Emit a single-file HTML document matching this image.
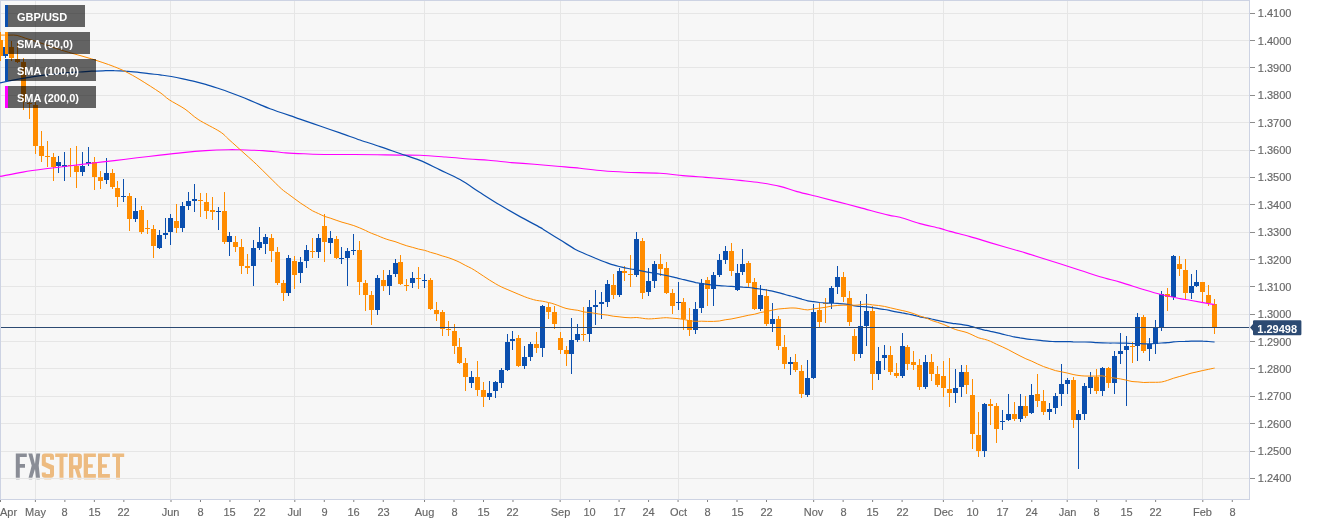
<!DOCTYPE html><html><head><meta charset="utf-8"><style>html,body{margin:0;padding:0;background:#fff;width:1326px;height:525px;overflow:hidden}svg{display:block;font-family:"Liberation Sans",sans-serif;will-change:transform}</style></head><body>
<svg width="1326" height="525" viewBox="0 0 1326 525">
<defs><clipPath id="pc"><rect x="0" y="1" width="1249" height="498"/></clipPath></defs>
<rect x="0" y="0" width="1250" height="500" fill="#f7f7f7"/>
<path d="M1 13.5H1249 M1 40.5H1249 M1 67.5H1249 M1 95.5H1249 M1 122.5H1249 M1 150.5H1249 M1 177.5H1249 M1 204.5H1249 M1 232.5H1249 M1 259.5H1249 M1 286.5H1249 M1 314.5H1249 M1 341.5H1249 M1 368.5H1249 M1 396.5H1249 M1 423.5H1249 M1 451.5H1249 M1 478.5H1249 M35.5 1V499 M170.5 1V499 M294.5 1V499 M424.5 1V499 M560.5 1V499 M678.5 1V499 M813.5 1V499 M943.5 1V499 M1067.5 1V499 M1202.5 1V499" stroke="#e6e6e6" stroke-width="1" fill="none"/>
<rect x="0.5" y="0.5" width="1249" height="499" fill="none" stroke="#cdd3e3" stroke-width="1"/>
<g clip-path="url(#pc)">
<path d="M-2 40h5v16h-5zM0 32h1v29h-1zM9 47h5v11h-5zM11 41h1v20h-1zM15 59h5v3h-5zM17 43h1v20h-1zM21 62h5v40h-5zM23 58h1v52h-1zM27 103h5v1h-5zM29 102h1v17h-1zM33 105h5v41h-5zM35 102h1v52h-1zM39 146h5v10h-5zM41 131h1v31h-1zM45 156h5v1h-5zM47 141h1v26h-1zM51 157h5v10h-5zM53 153h1v28h-1zM68 165h5v1h-5zM70 148h1v29h-1zM74 166h5v6h-5zM76 146h1v42h-1zM92 162h5v15h-5zM94 157h1v33h-1zM98 177h5v4h-5zM100 171h1v18h-1zM110 173h5v14h-5zM112 169h1v20h-1zM115 188h5v9h-5zM117 181h1v26h-1zM127 196h5v23h-5zM129 193h1v38h-1zM139 210h5v22h-5zM141 206h1v28h-1zM145 228h5v1h-5zM147 220h1v14h-1zM151 229h5v17h-5zM153 225h1v33h-1zM174 221h5v7h-5zM176 204h1v29h-1zM198 200h5v1h-5zM200 193h1v24h-1zM204 202h5v9h-5zM206 193h1v26h-1zM210 210h5v2h-5zM212 197h1v23h-1zM222 211h5v31h-5zM224 192h1v52h-1zM233 242h5v5h-5zM235 236h1v16h-1zM239 247h5v19h-5zM241 239h1v35h-1zM245 266h5v2h-5zM247 254h1v20h-1zM269 238h5v13h-5zM271 234h1v28h-1zM275 252h5v31h-5zM277 247h1v38h-1zM281 283h5v10h-5zM283 280h1v21h-1zM292 261h5v14h-5zM294 256h1v33h-1zM310 251h5v1h-5zM312 238h1v20h-1zM322 226h5v16h-5zM324 214h1v48h-1zM334 239h5v19h-5zM336 236h1v23h-1zM357 250h5v32h-5zM359 241h1v54h-1zM363 283h5v12h-5zM365 280h1v31h-1zM369 295h5v15h-5zM371 291h1v34h-1zM381 280h5v6h-5zM383 270h1v21h-1zM398 262h5v22h-5zM400 255h1v30h-1zM404 285h5v1h-5zM406 279h1v12h-1zM416 278h5v1h-5zM418 267h1v22h-1zM428 280h5v29h-5zM430 278h1v32h-1zM434 310h5v4h-5zM436 302h1v19h-1zM440 312h5v17h-5zM442 310h1v26h-1zM446 329h5v1h-5zM448 321h1v15h-1zM452 331h5v15h-5zM454 324h1v30h-1zM457 347h5v16h-5zM459 338h1v26h-1zM463 363h5v14h-5zM465 358h1v33h-1zM475 377h5v13h-5zM477 361h1v35h-1zM481 390h5v7h-5zM483 382h1v25h-1zM516 338h5v28h-5zM518 335h1v32h-1zM534 344h5v4h-5zM536 332h1v21h-1zM546 307h5v5h-5zM548 303h1v16h-1zM552 312h5v12h-5zM554 306h1v23h-1zM558 338h5v12h-5zM560 332h1v22h-1zM564 350h5v4h-5zM566 346h1v20h-1zM581 334h5v1h-5zM583 307h1v34h-1zM611 285h5v10h-5zM613 274h1v25h-1zM622 271h5v2h-5zM624 266h1v15h-1zM628 274h5v1h-5zM630 255h1v32h-1zM640 241h5v52h-5zM642 238h1v61h-1zM658 264h5v5h-5zM660 254h1v22h-1zM664 268h5v25h-5zM666 262h1v32h-1zM670 293h5v13h-5zM672 289h1v25h-1zM681 302h5v17h-5zM683 298h1v32h-1zM687 320h5v10h-5zM689 308h1v28h-1zM705 280h5v9h-5zM707 277h1v29h-1zM729 251h5v20h-5zM731 243h1v33h-1zM746 263h5v20h-5zM748 261h1v26h-1zM752 282h5v27h-5zM754 278h1v32h-1zM764 296h5v28h-5zM766 289h1v37h-1zM776 319h5v27h-5zM778 316h1v34h-1zM782 347h5v17h-5zM784 335h1v34h-1zM793 362h5v8h-5zM795 354h1v18h-1zM799 371h5v23h-5zM801 365h1v33h-1zM817 310h5v12h-5zM819 303h1v24h-1zM823 303h5v1h-5zM825 298h1v25h-1zM841 277h5v20h-5zM843 272h1v30h-1zM847 298h5v24h-5zM849 291h1v35h-1zM852 336h5v18h-5zM854 329h1v32h-1zM870 311h5v63h-5zM872 306h1v84h-1zM888 355h5v17h-5zM890 346h1v29h-1zM894 373h5v3h-5zM896 363h1v15h-1zM905 347h5v17h-5zM907 345h1v25h-1zM911 362h5v3h-5zM913 351h1v19h-1zM917 365h5v22h-5zM919 359h1v31h-1zM929 362h5v12h-5zM931 354h1v27h-1zM935 374h5v11h-5zM937 366h1v21h-1zM941 376h5v12h-5zM943 361h1v36h-1zM947 389h5v4h-5zM949 358h1v49h-1zM964 372h5v13h-5zM966 365h1v29h-1zM970 395h5v39h-5zM972 379h1v70h-1zM976 435h5v16h-5zM978 412h1v45h-1zM988 404h5v2h-5zM990 399h1v26h-1zM994 406h5v23h-5zM996 403h1v40h-1zM1012 414h5v5h-5zM1014 402h1v19h-1zM1023 406h5v10h-5zM1025 396h1v22h-1zM1035 394h5v7h-5zM1037 374h1v33h-1zM1041 401h5v11h-5zM1043 390h1v25h-1zM1071 380h5v40h-5zM1073 377h1v51h-1zM1094 377h5v14h-5zM1096 369h1v25h-1zM1106 368h5v15h-5zM1108 367h1v21h-1zM1130 346h5v1h-5zM1132 342h1v21h-1zM1141 317h5v34h-5zM1143 315h1v38h-1zM1165 294h5v3h-5zM1167 288h1v23h-1zM1177 264h5v5h-5zM1179 256h1v20h-1zM1183 270h5v23h-5zM1185 259h1v40h-1zM1200 282h5v10h-5zM1202 282h1v20h-1zM1206 295h5v8h-5zM1208 285h1v21h-1zM1212 304h5v23h-5zM1214 299h1v35h-1z" fill="#ff8c00"/>
<path d="M3 47h5v9h-5zM5 45h1v13h-1zM56 162h5v4h-5zM58 156h1v17h-1zM62 165h5v2h-5zM64 152h1v29h-1zM80 166h5v6h-5zM82 152h1v24h-1zM86 162h5v2h-5zM88 147h1v19h-1zM104 173h5v7h-5zM106 158h1v26h-1zM121 196h5v1h-5zM123 179h1v23h-1zM133 211h5v8h-5zM135 198h1v24h-1zM157 235h5v13h-5zM159 230h1v19h-1zM163 233h5v2h-5zM165 218h1v21h-1zM168 218h5v14h-5zM170 214h1v31h-1zM180 206h5v22h-5zM182 202h1v30h-1zM186 201h5v5h-5zM188 192h1v18h-1zM192 199h5v2h-5zM194 184h1v28h-1zM216 211h5v1h-5zM218 207h1v23h-1zM227 236h5v6h-5zM229 232h1v24h-1zM251 248h5v18h-5zM253 240h1v46h-1zM257 242h5v6h-5zM259 227h1v23h-1zM263 237h5v7h-5zM265 234h1v20h-1zM286 258h5v35h-5zM288 255h1v41h-1zM298 262h5v11h-5zM300 257h1v26h-1zM304 250h5v11h-5zM306 245h1v23h-1zM316 238h5v14h-5zM318 234h1v24h-1zM328 238h5v5h-5zM330 231h1v23h-1zM339 258h5v1h-5zM341 247h1v17h-1zM345 251h5v7h-5zM347 248h1v38h-1zM351 250h5v1h-5zM353 234h1v21h-1zM375 278h5v32h-5zM377 275h1v40h-1zM387 275h5v11h-5zM389 270h1v25h-1zM393 263h5v11h-5zM395 259h1v18h-1zM410 278h5v5h-5zM412 272h1v16h-1zM422 280h5v1h-5zM424 274h1v14h-1zM469 377h5v6h-5zM471 371h1v17h-1zM487 393h5v4h-5zM489 381h1v19h-1zM493 382h5v9h-5zM495 381h1v17h-1zM499 370h5v13h-5zM501 368h1v20h-1zM505 342h5v28h-5zM507 334h1v37h-1zM510 339h5v2h-5zM512 331h1v19h-1zM522 357h5v9h-5zM524 346h1v23h-1zM528 344h5v13h-5zM530 342h1v19h-1zM540 306h5v42h-5zM542 305h1v52h-1zM569 340h5v14h-5zM571 318h1v56h-1zM575 334h5v6h-5zM577 324h1v18h-1zM587 307h5v27h-5zM589 300h1v42h-1zM593 305h5v2h-5zM595 290h1v35h-1zM599 302h5v2h-5zM601 292h1v27h-1zM605 284h5v18h-5zM607 280h1v27h-1zM617 271h5v24h-5zM619 268h1v29h-1zM634 239h5v36h-5zM636 232h1v45h-1zM646 281h5v11h-5zM648 268h1v28h-1zM652 264h5v17h-5zM654 261h1v27h-1zM676 302h5v1h-5zM678 282h1v28h-1zM693 309h5v21h-5zM695 302h1v32h-1zM699 283h5v25h-5zM701 279h1v34h-1zM711 275h5v14h-5zM713 272h1v34h-1zM717 260h5v15h-5zM719 254h1v23h-1zM723 251h5v9h-5zM725 246h1v18h-1zM735 273h5v17h-5zM737 264h1v27h-1zM740 264h5v8h-5zM742 249h1v26h-1zM758 295h5v14h-5zM760 285h1v26h-1zM770 319h5v5h-5zM772 303h1v29h-1zM788 362h5v2h-5zM790 357h1v18h-1zM805 378h5v17h-5zM807 360h1v37h-1zM811 312h5v66h-5zM813 304h1v75h-1zM829 288h5v15h-5zM831 286h1v23h-1zM835 277h5v10h-5zM837 266h1v28h-1zM858 326h5v28h-5zM860 301h1v57h-1zM864 311h5v15h-5zM866 294h1v52h-1zM876 361h5v13h-5zM878 347h1v33h-1zM882 355h5v3h-5zM884 345h1v25h-1zM900 346h5v30h-5zM902 333h1v45h-1zM923 362h5v25h-5zM925 355h1v34h-1zM953 388h5v5h-5zM955 369h1v34h-1zM959 372h5v15h-5zM961 365h1v32h-1zM982 404h5v47h-5zM984 403h1v54h-1zM1000 421h5v1h-5zM1002 410h1v20h-1zM1006 414h5v6h-5zM1008 394h1v27h-1zM1018 406h5v13h-5zM1020 394h1v28h-1zM1029 395h5v18h-5zM1031 384h1v30h-1zM1047 409h5v3h-5zM1049 403h1v17h-1zM1053 396h5v12h-5zM1055 393h1v21h-1zM1059 384h5v10h-5zM1061 364h1v42h-1zM1065 380h5v4h-5zM1067 378h1v16h-1zM1076 414h5v6h-5zM1078 410h1v59h-1zM1082 386h5v28h-5zM1084 383h1v37h-1zM1088 377h5v11h-5zM1090 372h1v22h-1zM1100 368h5v23h-5zM1102 367h1v29h-1zM1112 356h5v27h-5zM1114 351h1v43h-1zM1118 351h5v3h-5zM1120 333h1v31h-1zM1124 346h5v4h-5zM1126 336h1v70h-1zM1135 317h5v29h-5zM1137 313h1v48h-1zM1147 344h5v5h-5zM1149 338h1v23h-1zM1153 328h5v16h-5zM1155 320h1v34h-1zM1159 294h5v33h-5zM1161 291h1v40h-1zM1171 256h5v41h-5zM1173 255h1v45h-1zM1189 286h5v7h-5zM1191 274h1v25h-1zM1194 282h5v4h-5zM1196 270h1v17h-1z" fill="#0b4fae"/>
<path d="M0.0 176.4 C3.8 175.7 15.3 173.4 22.9 172.1 C30.5 170.8 38.1 169.8 45.7 168.8 C53.3 167.8 61.0 166.9 68.6 166.0 C76.2 165.1 83.8 164.1 91.4 163.2 C99.0 162.3 106.7 161.5 114.3 160.6 C121.9 159.7 129.5 158.7 137.1 157.8 C144.7 156.9 152.4 156.0 160.0 155.1 C167.6 154.2 175.3 153.3 182.9 152.6 C190.5 151.8 198.1 151.1 205.7 150.6 C213.3 150.1 222.9 149.8 228.6 149.7 C234.3 149.6 234.3 149.7 240.0 149.8 C245.7 150.0 255.3 150.1 262.9 150.6 C270.5 151.1 278.1 152.3 285.7 152.9 C293.3 153.5 301.0 153.7 308.6 154.0 C316.2 154.3 323.8 154.4 331.4 154.5 C339.0 154.6 346.7 154.5 354.3 154.5 C361.9 154.5 369.5 154.6 377.1 154.7 C384.7 154.8 392.9 155.0 400.0 155.1 C407.1 155.2 412.4 155.0 420.0 155.3 C427.6 155.6 437.6 156.4 445.7 157.0 C453.8 157.6 461.5 158.4 468.6 159.0 C475.8 159.6 481.5 159.7 488.6 160.3 C495.7 160.9 503.8 161.9 511.4 162.6 C519.0 163.2 526.7 163.6 534.3 164.2 C541.9 164.8 549.5 165.5 557.1 166.2 C564.7 166.9 572.4 167.5 580.0 168.3 C587.6 169.1 595.3 170.2 602.9 170.8 C610.5 171.5 616.2 171.8 625.7 172.2 C635.2 172.6 650.5 172.7 660.0 173.3 C669.5 173.9 675.3 174.9 682.9 175.6 C690.5 176.3 698.1 176.8 705.7 177.4 C713.3 178.0 722.9 178.8 728.6 179.3 C734.3 179.8 734.8 179.8 740.0 180.4 C745.2 181.0 753.3 181.7 760.0 182.7 C766.7 183.7 773.8 184.9 780.0 186.4 C786.2 187.9 790.4 189.8 797.1 191.6 C803.8 193.4 812.9 195.5 820.0 197.3 C827.1 199.1 833.3 200.7 840.0 202.4 C846.7 204.1 851.9 205.5 860.0 207.6 C868.1 209.7 881.9 213.5 888.6 215.1 C895.3 216.7 894.8 215.9 900.0 217.3 C905.2 218.7 913.3 221.8 920.0 223.6 C926.7 225.4 935.0 227.1 940.0 228.4 C945.0 229.7 945.0 230.0 950.0 231.4 C955.0 232.8 963.3 234.7 970.0 236.6 C976.7 238.5 981.7 240.1 990.0 242.6 C998.3 245.1 1011.7 248.8 1020.0 251.3 C1028.3 253.8 1030.0 254.2 1040.0 257.4 C1050.0 260.6 1070.0 267.1 1080.0 270.3 C1090.0 273.5 1093.3 274.7 1100.0 276.7 C1106.7 278.7 1113.3 280.2 1120.0 282.1 C1126.7 284.0 1133.3 286.3 1140.0 288.4 C1146.7 290.4 1153.3 292.6 1160.0 294.3 C1166.7 296.0 1175.0 297.6 1180.0 298.6 C1185.0 299.6 1184.2 299.3 1190.0 300.3 C1195.8 301.3 1210.5 303.9 1214.6 304.6" stroke="#ff00ff" stroke-width="1.1" fill="none"/>
<path d="M0.0 82.8 C3.8 82.0 15.3 79.6 22.9 78.3 C30.5 77.0 38.1 75.9 45.7 74.9 C53.3 74.0 62.9 73.1 68.6 72.6 C74.3 72.1 76.2 72.2 80.0 72.0 C83.8 71.8 87.6 71.4 91.4 71.2 C95.2 71.0 99.1 70.9 102.9 70.8 C106.7 70.7 110.5 70.5 114.3 70.6 C118.1 70.6 121.9 70.8 125.7 71.1 C129.5 71.3 133.3 71.7 137.1 72.1 C140.9 72.5 144.8 73.1 148.6 73.6 C152.4 74.1 156.2 74.4 160.0 74.9 C163.8 75.4 167.6 75.8 171.4 76.5 C175.2 77.2 179.1 78.0 182.9 78.8 C186.7 79.6 190.5 80.4 194.3 81.3 C198.1 82.2 201.9 83.2 205.7 84.3 C209.5 85.4 213.3 86.7 217.1 88.0 C220.9 89.3 224.8 90.6 228.6 92.0 C232.4 93.4 236.4 94.9 240.0 96.3 C243.6 97.7 246.7 99.0 250.0 100.4 C253.3 101.8 256.7 103.2 260.0 104.6 C263.3 106.0 265.0 106.9 270.0 108.7 C275.0 110.5 285.0 113.9 290.0 115.6 C295.0 117.3 295.0 117.4 300.0 119.1 C305.0 120.8 313.3 123.7 320.0 126.0 C326.7 128.3 333.3 130.6 340.0 132.9 C346.7 135.2 353.3 137.7 360.0 140.0 C366.7 142.3 373.3 144.3 380.0 146.6 C386.7 148.8 393.3 151.2 400.0 153.5 C406.7 155.8 413.3 157.7 420.0 160.4 C426.7 163.1 433.3 166.7 440.0 169.9 C446.7 173.1 453.3 175.8 460.0 179.6 C466.7 183.4 473.3 188.2 480.0 192.5 C486.7 196.8 493.3 201.1 500.0 205.1 C506.7 209.1 513.3 212.9 520.0 216.6 C526.7 220.3 535.8 225.1 540.0 227.4 C544.2 229.7 541.6 228.5 545.0 230.6 C548.4 232.7 555.4 236.9 560.4 240.0 C565.4 243.1 571.1 247.0 575.0 249.2 C578.9 251.4 581.3 252.1 583.7 253.2 C586.2 254.3 587.6 254.9 589.6 255.7 C591.6 256.6 593.5 257.4 595.5 258.3 C597.5 259.1 599.4 259.9 601.4 260.7 C603.4 261.5 605.3 262.2 607.3 262.9 C609.3 263.6 611.2 264.3 613.2 264.9 C615.2 265.5 617.1 266.0 619.1 266.5 C621.1 267.0 623.0 267.4 625.0 267.8 C627.0 268.2 628.9 268.7 630.9 269.0 C632.9 269.3 634.8 269.5 636.8 269.8 C638.7 270.2 640.7 270.7 642.7 271.1 C644.6 271.5 646.6 271.9 648.6 272.3 C650.5 272.6 652.5 272.9 654.5 273.3 C656.4 273.6 658.4 273.9 660.4 274.3 C662.3 274.7 664.3 275.1 666.3 275.5 C668.2 275.9 670.2 276.4 672.2 276.9 C674.1 277.4 676.1 277.8 678.1 278.3 C680.0 278.8 682.0 279.2 683.9 279.7 C685.9 280.2 687.9 280.7 689.8 281.2 C691.8 281.7 693.8 282.2 695.7 282.6 C697.7 282.9 699.7 283.2 701.6 283.5 C703.6 283.8 705.6 284.2 707.5 284.4 C709.5 284.7 711.5 285.0 713.4 285.2 C715.4 285.4 717.4 285.5 719.3 285.6 C721.3 285.8 723.3 285.9 725.2 286.0 C727.2 286.2 729.2 286.3 731.1 286.4 C733.1 286.6 735.0 286.8 737.0 286.9 C739.0 287.0 740.9 286.9 742.9 287.1 C744.9 287.2 746.8 287.3 748.8 287.5 C750.8 287.7 752.7 288.0 754.7 288.3 C756.7 288.5 758.6 288.8 760.6 289.1 C762.6 289.3 764.5 289.7 766.5 290.0 C768.5 290.4 770.4 290.7 772.4 291.1 C774.4 291.6 776.3 292.1 778.3 292.6 C780.3 293.1 782.2 293.7 784.2 294.2 C786.1 294.8 788.1 295.3 790.1 295.8 C792.0 296.4 794.0 296.9 796.0 297.4 C797.9 298.0 799.9 298.7 801.9 299.2 C803.8 299.8 805.8 300.5 807.8 300.9 C809.7 301.3 811.7 301.3 813.7 301.6 C815.6 301.9 817.6 302.2 819.6 302.5 C821.5 302.7 823.5 302.9 825.5 303.0 C827.4 303.2 829.4 303.2 831.4 303.2 C833.3 303.3 835.3 303.2 837.2 303.3 C839.2 303.4 841.2 303.6 843.1 303.8 C845.1 304.0 847.1 304.3 849.0 304.6 C851.0 305.0 853.0 305.5 854.9 305.8 C856.9 306.1 858.9 306.4 860.8 306.5 C862.8 306.7 864.8 306.6 866.7 306.8 C868.7 307.0 870.7 307.3 872.6 307.6 C874.6 307.9 876.6 308.4 878.5 308.7 C880.5 309.0 882.4 309.2 884.4 309.5 C886.4 309.8 888.3 310.2 890.3 310.6 C892.3 311.0 894.2 311.5 896.2 311.8 C898.2 312.2 900.1 312.4 902.1 312.8 C904.1 313.1 906.0 313.6 908.0 314.0 C910.0 314.5 911.9 314.8 913.9 315.3 C915.9 315.7 917.8 316.3 919.8 316.8 C921.8 317.2 923.7 317.4 925.7 317.8 C927.7 318.2 929.6 318.5 931.6 319.0 C933.5 319.4 935.5 319.9 937.5 320.3 C939.4 320.8 941.4 321.3 943.4 321.7 C945.3 322.1 947.3 322.5 949.3 322.8 C951.2 323.1 953.2 323.5 955.2 323.7 C957.1 324.0 959.1 324.1 961.1 324.3 C963.0 324.6 965.0 325.0 967.0 325.4 C968.9 325.8 970.9 326.4 972.9 326.9 C974.8 327.4 976.8 328.1 978.8 328.7 C980.7 329.2 982.7 329.6 984.6 330.1 C986.6 330.5 988.6 330.8 990.5 331.3 C992.5 331.7 994.5 332.2 996.4 332.7 C998.4 333.2 1000.4 333.7 1002.3 334.1 C1004.3 334.6 1006.3 335.0 1008.2 335.5 C1010.2 335.9 1012.2 336.5 1014.1 336.9 C1016.1 337.3 1018.1 337.5 1020.0 337.9 C1022.0 338.2 1024.0 338.6 1025.9 338.9 C1027.9 339.2 1029.8 339.3 1031.8 339.5 C1033.8 339.8 1035.7 340.0 1037.7 340.2 C1039.7 340.5 1041.6 340.7 1043.6 340.9 C1045.6 341.1 1047.5 341.3 1049.5 341.4 C1051.5 341.5 1053.4 341.5 1055.4 341.6 C1057.4 341.6 1059.3 341.6 1061.3 341.6 C1063.3 341.6 1065.2 341.5 1067.2 341.5 C1069.2 341.6 1071.1 341.7 1073.1 341.8 C1075.1 341.8 1077.0 341.9 1079.0 342.0 C1080.9 342.0 1082.9 342.0 1084.9 342.0 C1086.8 342.0 1088.8 342.0 1090.8 342.1 C1092.7 342.2 1094.7 342.5 1096.7 342.6 C1098.6 342.7 1100.6 342.8 1102.6 342.9 C1104.5 343.0 1106.5 343.0 1108.5 343.0 C1110.4 343.1 1112.4 343.0 1114.4 343.0 C1116.3 343.1 1118.3 343.1 1120.3 343.1 C1122.2 343.1 1124.2 343.0 1126.2 343.1 C1128.1 343.2 1130.1 343.4 1132.0 343.5 C1134.0 343.6 1136.0 343.5 1137.9 343.6 C1139.9 343.6 1141.9 343.8 1143.8 343.8 C1145.8 343.9 1147.8 343.8 1149.7 343.8 C1151.7 343.7 1153.7 343.6 1155.6 343.5 C1157.6 343.4 1159.6 343.2 1161.5 343.0 C1163.5 342.9 1165.5 342.9 1167.4 342.7 C1169.4 342.5 1171.4 342.1 1173.3 341.9 C1175.3 341.7 1177.2 341.6 1179.2 341.5 C1181.2 341.4 1183.1 341.4 1185.1 341.4 C1187.1 341.3 1189.0 341.3 1191.0 341.2 C1193.0 341.2 1194.9 341.2 1196.9 341.2 C1198.9 341.2 1200.8 341.1 1202.8 341.2 C1204.8 341.2 1206.7 341.4 1208.7 341.5 C1210.7 341.6 1213.6 341.9 1214.6 342.0" stroke="#0b4fae" stroke-width="1.2" fill="none"/>
<path d="M0.0 35.1 C1.7 35.1 7.2 35.1 10.0 35.1 C12.8 35.1 14.5 34.9 17.1 35.4 C19.7 35.9 22.8 37.4 25.7 38.3 C28.6 39.2 31.4 40.0 34.3 40.9 C37.2 41.8 40.0 42.7 42.9 43.7 C45.8 44.7 48.5 45.9 51.4 46.9 C54.2 47.9 57.1 48.8 60.0 49.7 C62.9 50.6 65.3 51.3 68.6 52.3 C71.9 53.3 76.2 54.4 80.0 55.5 C83.8 56.5 87.6 57.6 91.4 58.8 C95.2 60.0 99.1 61.3 102.9 62.6 C106.7 63.9 110.5 65.2 114.3 66.7 C118.1 68.2 121.4 69.5 125.7 71.7 C130.0 73.9 134.3 76.2 140.0 79.7 C145.7 83.2 155.2 89.2 160.0 92.5 C164.8 95.8 164.9 96.9 169.1 99.7 C173.3 102.5 180.2 105.8 185.0 109.1 C189.8 112.4 192.3 115.6 198.1 119.4 C203.9 123.2 214.8 128.3 220.0 131.7 C225.2 135.1 224.9 136.0 229.1 139.7 C233.3 143.4 240.4 149.9 245.0 154.0 C249.6 158.1 252.6 160.7 256.6 164.5 C260.6 168.3 264.9 172.7 269.0 176.7 C273.1 180.7 278.0 185.7 281.3 188.7 C284.6 191.7 286.7 192.8 288.9 194.5 C291.2 196.2 292.8 197.4 294.8 198.9 C296.8 200.3 298.7 201.8 300.7 203.2 C302.7 204.5 304.6 205.7 306.6 207.0 C308.6 208.3 310.5 209.7 312.5 210.8 C314.5 211.9 316.4 212.6 318.4 213.5 C320.4 214.4 322.3 215.5 324.3 216.3 C326.3 217.0 328.2 217.5 330.2 218.1 C332.2 218.8 334.1 219.5 336.1 220.2 C338.1 220.8 340.0 221.6 342.0 222.2 C343.9 222.8 345.9 223.3 347.9 223.8 C349.8 224.4 351.8 224.9 353.8 225.6 C355.7 226.3 357.7 227.1 359.7 227.9 C361.6 228.8 363.6 229.6 365.6 230.5 C367.5 231.4 369.5 232.5 371.5 233.3 C373.4 234.1 375.4 234.8 377.4 235.5 C379.3 236.3 381.3 237.3 383.3 238.0 C385.2 238.8 387.2 239.4 389.1 240.0 C391.1 240.6 393.1 241.0 395.0 241.6 C397.0 242.2 399.0 243.1 400.9 243.8 C402.9 244.5 404.9 245.2 406.8 245.8 C408.8 246.4 410.8 246.9 412.7 247.4 C414.7 248.0 416.7 248.6 418.6 249.1 C420.6 249.6 422.6 249.8 424.5 250.3 C426.5 250.8 428.5 251.7 430.4 252.3 C432.4 252.9 434.4 253.3 436.3 253.9 C438.3 254.5 440.2 255.3 442.2 255.9 C444.2 256.5 446.1 256.9 448.1 257.6 C450.1 258.2 452.0 259.0 454.0 259.8 C456.0 260.6 457.9 261.4 459.9 262.4 C461.9 263.4 463.8 264.5 465.8 265.6 C467.8 266.6 469.7 267.4 471.7 268.5 C473.7 269.6 475.6 270.9 477.6 272.2 C479.6 273.5 481.5 274.8 483.5 276.1 C485.5 277.4 487.4 278.7 489.4 280.0 C491.3 281.2 493.3 282.5 495.3 283.6 C497.2 284.8 499.2 285.8 501.2 286.8 C503.1 287.8 505.1 288.5 507.1 289.4 C509.0 290.2 511.0 291.1 513.0 291.9 C514.9 292.8 516.9 293.6 518.9 294.4 C520.8 295.2 522.8 296.1 524.8 296.8 C526.7 297.6 528.7 298.2 530.7 298.8 C532.6 299.4 534.6 300.0 536.5 300.4 C538.5 300.8 540.5 300.8 542.4 301.2 C544.4 301.5 546.4 302.0 548.3 302.5 C550.3 302.9 552.3 303.4 554.2 304.1 C556.2 304.7 558.2 305.6 560.1 306.3 C562.1 307.1 564.1 307.9 566.0 308.4 C568.0 308.9 570.0 309.2 571.9 309.5 C573.9 309.9 575.9 310.0 577.8 310.3 C579.8 310.7 581.8 311.5 583.7 311.9 C585.7 312.3 587.6 312.3 589.6 312.5 C591.6 312.8 593.5 313.1 595.5 313.4 C597.5 313.7 599.4 314.2 601.4 314.4 C603.4 314.7 605.3 314.8 607.3 315.1 C609.3 315.4 611.2 315.9 613.2 316.2 C615.2 316.5 617.1 316.6 619.1 316.8 C621.1 317.0 623.0 317.3 625.0 317.5 C627.0 317.7 628.9 317.8 630.9 317.8 C632.9 317.8 634.8 317.4 636.8 317.5 C638.7 317.6 640.7 318.1 642.7 318.3 C644.6 318.6 646.6 318.9 648.6 318.9 C650.5 319.0 652.5 318.7 654.5 318.6 C656.4 318.4 658.4 318.2 660.4 318.1 C662.3 317.9 664.3 317.7 666.3 317.7 C668.2 317.7 670.2 318.1 672.2 318.2 C674.1 318.4 676.1 318.4 678.1 318.6 C680.0 318.8 682.0 319.1 683.9 319.5 C685.9 319.8 687.9 320.5 689.8 320.8 C691.8 321.1 693.8 321.2 695.7 321.3 C697.7 321.4 699.7 321.2 701.6 321.2 C703.6 321.2 705.6 321.4 707.5 321.4 C709.5 321.5 711.5 321.4 713.4 321.4 C715.4 321.3 717.4 321.2 719.3 321.0 C721.3 320.7 723.3 320.2 725.2 319.8 C727.2 319.5 729.2 319.3 731.1 319.0 C733.1 318.6 735.0 318.2 737.0 317.8 C739.0 317.4 740.9 316.9 742.9 316.5 C744.9 316.1 746.8 315.6 748.8 315.2 C750.8 314.9 752.7 314.6 754.7 314.2 C756.7 313.7 758.6 313.0 760.6 312.5 C762.6 312.1 764.5 311.9 766.5 311.5 C768.5 311.1 770.4 310.5 772.4 310.1 C774.4 309.7 776.3 309.3 778.3 309.0 C780.3 308.8 782.2 308.6 784.2 308.5 C786.1 308.3 788.1 308.1 790.1 308.0 C792.0 308.0 794.0 307.9 796.0 308.1 C797.9 308.2 799.9 308.8 801.9 309.1 C803.8 309.4 805.8 309.9 807.8 309.9 C809.7 309.8 811.7 309.1 813.7 308.8 C815.6 308.5 817.6 308.3 819.6 308.1 C821.5 307.8 823.5 307.6 825.5 307.3 C827.4 307.0 829.4 306.4 831.4 306.1 C833.3 305.8 835.3 305.6 837.2 305.5 C839.2 305.3 841.2 305.3 843.1 305.2 C845.1 305.1 847.1 305.2 849.0 305.2 C851.0 305.2 853.0 305.3 854.9 305.2 C856.9 305.2 858.9 304.9 860.8 304.7 C862.8 304.5 864.8 304.1 866.7 304.1 C868.7 304.2 870.7 304.7 872.6 304.9 C874.6 305.2 876.6 305.2 878.5 305.5 C880.5 305.7 882.4 306.0 884.4 306.4 C886.4 306.8 888.3 307.3 890.3 307.8 C892.3 308.2 894.2 308.8 896.2 309.2 C898.2 309.7 900.1 310.0 902.1 310.5 C904.1 310.9 906.0 311.3 908.0 311.9 C910.0 312.4 911.9 313.0 913.9 313.7 C915.9 314.4 917.8 315.3 919.8 316.0 C921.8 316.7 923.7 317.0 925.7 317.8 C927.7 318.5 929.6 319.7 931.6 320.5 C933.5 321.2 935.5 321.6 937.5 322.3 C939.4 323.0 941.4 323.6 943.4 324.4 C945.3 325.2 947.3 326.2 949.3 327.0 C951.2 327.8 953.2 328.7 955.2 329.4 C957.1 330.1 959.1 330.5 961.1 331.0 C963.0 331.5 965.0 331.9 967.0 332.6 C968.9 333.3 970.9 334.3 972.9 335.2 C974.8 336.1 976.8 337.2 978.8 337.9 C980.7 338.5 982.7 338.8 984.6 339.3 C986.6 339.9 988.6 340.5 990.5 341.3 C992.5 342.1 994.5 343.3 996.4 344.2 C998.4 345.1 1000.4 345.9 1002.3 346.8 C1004.3 347.7 1006.3 348.6 1008.2 349.6 C1010.2 350.6 1012.2 351.7 1014.1 352.8 C1016.1 353.8 1018.1 354.9 1020.0 355.9 C1022.0 356.9 1024.0 357.9 1025.9 358.8 C1027.9 359.7 1029.8 360.4 1031.8 361.2 C1033.8 362.1 1035.7 363.1 1037.7 364.0 C1039.7 364.9 1041.6 365.8 1043.6 366.6 C1045.6 367.3 1047.5 367.9 1049.5 368.6 C1051.5 369.2 1053.4 370.0 1055.4 370.6 C1057.4 371.1 1059.3 371.4 1061.3 371.8 C1063.3 372.2 1065.2 372.6 1067.2 373.0 C1069.2 373.5 1071.1 374.1 1073.1 374.5 C1075.1 374.9 1077.0 375.3 1079.0 375.5 C1080.9 375.8 1082.9 375.9 1084.9 376.0 C1086.8 376.1 1088.8 376.1 1090.8 376.1 C1092.7 376.1 1094.7 376.1 1096.7 376.1 C1098.6 376.0 1100.6 375.7 1102.6 375.9 C1104.5 376.1 1106.5 376.9 1108.5 377.3 C1110.4 377.7 1112.4 377.7 1114.4 378.0 C1116.3 378.3 1118.3 378.6 1120.3 378.9 C1122.2 379.3 1124.2 379.7 1126.2 380.1 C1128.1 380.5 1130.1 381.2 1132.0 381.5 C1134.0 381.8 1136.0 381.7 1137.9 381.9 C1139.9 382.1 1141.9 382.4 1143.8 382.5 C1145.8 382.5 1147.8 382.3 1149.7 382.3 C1151.7 382.3 1153.7 382.4 1155.6 382.3 C1157.6 382.3 1159.6 382.3 1161.5 382.0 C1163.5 381.7 1165.5 381.0 1167.4 380.4 C1169.4 379.8 1171.4 379.0 1173.3 378.3 C1175.3 377.7 1177.2 377.1 1179.2 376.6 C1181.2 376.0 1183.1 375.6 1185.1 375.0 C1187.1 374.4 1189.0 373.7 1191.0 373.2 C1193.0 372.7 1194.9 372.4 1196.9 371.9 C1198.9 371.5 1200.8 370.9 1202.8 370.5 C1204.8 370.0 1206.7 369.7 1208.7 369.3 C1210.7 368.8 1213.6 368.3 1214.6 368.1" stroke="#ff8c00" stroke-width="1" fill="none"/>
<rect x="1" y="327" width="1248" height="1" fill="#2c4a72"/>
</g>
<rect x="5" y="5" width="80" height="22" fill="rgba(0,0,0,0.6)"/>
<rect x="5" y="5" width="3" height="22" fill="#0b4fae"/>
<text x="17" y="21" font-size="11" font-weight="bold" fill="#ffffff">GBP/USD</text>
<rect x="5" y="32" width="85" height="22" fill="rgba(0,0,0,0.6)"/>
<rect x="5" y="32" width="3" height="22" fill="#ff8c00"/>
<text x="17" y="48" font-size="11" font-weight="bold" fill="#ffffff">SMA (50,0)</text>
<rect x="5" y="59" width="91" height="22" fill="rgba(0,0,0,0.6)"/>
<rect x="5" y="59" width="3" height="22" fill="#0b4fae"/>
<text x="17" y="75" font-size="11" font-weight="bold" fill="#ffffff">SMA (100,0)</text>
<rect x="5" y="86" width="91" height="22" fill="rgba(0,0,0,0.6)"/>
<rect x="5" y="86" width="3" height="22" fill="#ff00ff"/>
<text x="17" y="102" font-size="11" font-weight="bold" fill="#ffffff">SMA (200,0)</text>
<text x="1257.8" y="17" font-size="11" fill="#666666" stroke="#666666" stroke-width="0.15">1.4100</text>
<text x="1257.8" y="45" font-size="11" fill="#666666" stroke="#666666" stroke-width="0.15">1.4000</text>
<text x="1257.8" y="72" font-size="11" fill="#666666" stroke="#666666" stroke-width="0.15">1.3900</text>
<text x="1257.8" y="99" font-size="11" fill="#666666" stroke="#666666" stroke-width="0.15">1.3800</text>
<text x="1257.8" y="127" font-size="11" fill="#666666" stroke="#666666" stroke-width="0.15">1.3700</text>
<text x="1257.8" y="154" font-size="11" fill="#666666" stroke="#666666" stroke-width="0.15">1.3600</text>
<text x="1257.8" y="181" font-size="11" fill="#666666" stroke="#666666" stroke-width="0.15">1.3500</text>
<text x="1257.8" y="209" font-size="11" fill="#666666" stroke="#666666" stroke-width="0.15">1.3400</text>
<text x="1257.8" y="236" font-size="11" fill="#666666" stroke="#666666" stroke-width="0.15">1.3300</text>
<text x="1257.8" y="264" font-size="11" fill="#666666" stroke="#666666" stroke-width="0.15">1.3200</text>
<text x="1257.8" y="291" font-size="11" fill="#666666" stroke="#666666" stroke-width="0.15">1.3100</text>
<text x="1257.8" y="318" font-size="11" fill="#666666" stroke="#666666" stroke-width="0.15">1.3000</text>
<text x="1257.8" y="346" font-size="11" fill="#666666" stroke="#666666" stroke-width="0.15">1.2900</text>
<text x="1257.8" y="373" font-size="11" fill="#666666" stroke="#666666" stroke-width="0.15">1.2800</text>
<text x="1257.8" y="400" font-size="11" fill="#666666" stroke="#666666" stroke-width="0.15">1.2700</text>
<text x="1257.8" y="428" font-size="11" fill="#666666" stroke="#666666" stroke-width="0.15">1.2600</text>
<text x="1257.8" y="455" font-size="11" fill="#666666" stroke="#666666" stroke-width="0.15">1.2500</text>
<text x="1257.8" y="482" font-size="11" fill="#666666" stroke="#666666" stroke-width="0.15">1.2400</text>
<path d="M1250 13.5H1255 M1250 40.5H1255 M1250 67.5H1255 M1250 95.5H1255 M1250 122.5H1255 M1250 150.5H1255 M1250 177.5H1255 M1250 204.5H1255 M1250 232.5H1255 M1250 259.5H1255 M1250 286.5H1255 M1250 314.5H1255 M1250 341.5H1255 M1250 368.5H1255 M1250 396.5H1255 M1250 423.5H1255 M1250 451.5H1255 M1250 478.5H1255" stroke="#8c8c8c" stroke-width="1"/>
<text x="0" y="516" font-size="11" fill="#666666" stroke="#666666" stroke-width="0.15">Apr</text>
<text x="35.5" y="516" font-size="11" fill="#666666" stroke="#666666" stroke-width="0.15" text-anchor="middle">May</text>
<text x="64.5" y="516" font-size="11" fill="#666666" stroke="#666666" stroke-width="0.15" text-anchor="middle">8</text>
<text x="94.5" y="516" font-size="11" fill="#666666" stroke="#666666" stroke-width="0.15" text-anchor="middle">15</text>
<text x="123.5" y="516" font-size="11" fill="#666666" stroke="#666666" stroke-width="0.15" text-anchor="middle">22</text>
<text x="170.5" y="516" font-size="11" fill="#666666" stroke="#666666" stroke-width="0.15" text-anchor="middle">Jun</text>
<text x="200.5" y="516" font-size="11" fill="#666666" stroke="#666666" stroke-width="0.15" text-anchor="middle">8</text>
<text x="229.5" y="516" font-size="11" fill="#666666" stroke="#666666" stroke-width="0.15" text-anchor="middle">15</text>
<text x="259.5" y="516" font-size="11" fill="#666666" stroke="#666666" stroke-width="0.15" text-anchor="middle">22</text>
<text x="294.5" y="516" font-size="11" fill="#666666" stroke="#666666" stroke-width="0.15" text-anchor="middle">Jul</text>
<text x="324.5" y="516" font-size="11" fill="#666666" stroke="#666666" stroke-width="0.15" text-anchor="middle">9</text>
<text x="353.5" y="516" font-size="11" fill="#666666" stroke="#666666" stroke-width="0.15" text-anchor="middle">16</text>
<text x="383.5" y="516" font-size="11" fill="#666666" stroke="#666666" stroke-width="0.15" text-anchor="middle">23</text>
<text x="424.5" y="516" font-size="11" fill="#666666" stroke="#666666" stroke-width="0.15" text-anchor="middle">Aug</text>
<text x="454.5" y="516" font-size="11" fill="#666666" stroke="#666666" stroke-width="0.15" text-anchor="middle">8</text>
<text x="483.5" y="516" font-size="11" fill="#666666" stroke="#666666" stroke-width="0.15" text-anchor="middle">15</text>
<text x="512.5" y="516" font-size="11" fill="#666666" stroke="#666666" stroke-width="0.15" text-anchor="middle">22</text>
<text x="560.5" y="516" font-size="11" fill="#666666" stroke="#666666" stroke-width="0.15" text-anchor="middle">Sep</text>
<text x="589.5" y="516" font-size="11" fill="#666666" stroke="#666666" stroke-width="0.15" text-anchor="middle">10</text>
<text x="619.5" y="516" font-size="11" fill="#666666" stroke="#666666" stroke-width="0.15" text-anchor="middle">17</text>
<text x="648.5" y="516" font-size="11" fill="#666666" stroke="#666666" stroke-width="0.15" text-anchor="middle">24</text>
<text x="678.5" y="516" font-size="11" fill="#666666" stroke="#666666" stroke-width="0.15" text-anchor="middle">Oct</text>
<text x="707.5" y="516" font-size="11" fill="#666666" stroke="#666666" stroke-width="0.15" text-anchor="middle">8</text>
<text x="737.5" y="516" font-size="11" fill="#666666" stroke="#666666" stroke-width="0.15" text-anchor="middle">15</text>
<text x="766.5" y="516" font-size="11" fill="#666666" stroke="#666666" stroke-width="0.15" text-anchor="middle">22</text>
<text x="813.5" y="516" font-size="11" fill="#666666" stroke="#666666" stroke-width="0.15" text-anchor="middle">Nov</text>
<text x="843.5" y="516" font-size="11" fill="#666666" stroke="#666666" stroke-width="0.15" text-anchor="middle">8</text>
<text x="872.5" y="516" font-size="11" fill="#666666" stroke="#666666" stroke-width="0.15" text-anchor="middle">15</text>
<text x="902.5" y="516" font-size="11" fill="#666666" stroke="#666666" stroke-width="0.15" text-anchor="middle">22</text>
<text x="943.5" y="516" font-size="11" fill="#666666" stroke="#666666" stroke-width="0.15" text-anchor="middle">Dec</text>
<text x="972.5" y="516" font-size="11" fill="#666666" stroke="#666666" stroke-width="0.15" text-anchor="middle">10</text>
<text x="1002.5" y="516" font-size="11" fill="#666666" stroke="#666666" stroke-width="0.15" text-anchor="middle">17</text>
<text x="1031.5" y="516" font-size="11" fill="#666666" stroke="#666666" stroke-width="0.15" text-anchor="middle">24</text>
<text x="1067.5" y="516" font-size="11" fill="#666666" stroke="#666666" stroke-width="0.15" text-anchor="middle">Jan</text>
<text x="1096.5" y="516" font-size="11" fill="#666666" stroke="#666666" stroke-width="0.15" text-anchor="middle">8</text>
<text x="1126.5" y="516" font-size="11" fill="#666666" stroke="#666666" stroke-width="0.15" text-anchor="middle">15</text>
<text x="1155.5" y="516" font-size="11" fill="#666666" stroke="#666666" stroke-width="0.15" text-anchor="middle">22</text>
<text x="1202.5" y="516" font-size="11" fill="#666666" stroke="#666666" stroke-width="0.15" text-anchor="middle">Feb</text>
<text x="1232.5" y="516" font-size="11" fill="#666666" stroke="#666666" stroke-width="0.15" text-anchor="middle">8</text>
<path d="M0.50 500V502 M35.39 500V502 M64.87 500V502 M94.35 500V502 M123.83 500V502 M171.00 500V502 M200.48 500V502 M229.96 500V502 M259.44 500V502 M294.81 500V502 M324.29 500V502 M353.77 500V502 M383.25 500V502 M424.53 500V502 M454.01 500V502 M483.49 500V502 M512.97 500V502 M560.13 500V502 M589.61 500V502 M619.09 500V502 M648.57 500V502 M678.05 500V502 M707.53 500V502 M737.01 500V502 M766.49 500V502 M813.66 500V502 M843.14 500V502 M872.62 500V502 M902.10 500V502 M943.37 500V502 M972.85 500V502 M1002.33 500V502 M1031.81 500V502 M1067.19 500V502 M1096.67 500V502 M1126.15 500V502 M1155.63 500V502 M1202.80 500V502 M1232.28 500V502" stroke="#808080" stroke-width="1"/>
<path d="M1250 327.5 L1253 324 V321.5 Q1253 320.3 1254.2 320.3 H1300.2 Q1301.4 320.3 1301.4 321.5 V334.1 Q1301.4 335.3 1300.2 335.3 H1254.2 Q1253 335.3 1253 334.1 V331 Z" fill="#2c4a72"/>
<text x="1257.3" y="333" font-size="11" font-weight="bold" fill="#ffffff">1.29498</text>
<path d="M15.8 453.4H26.8V457H19.8V464H25V467.7H19.8V477.7H15.8Z M28.3 453.4H32.3L35 464L36.3 453.4H40.2L38.7 465.5L40 477.7H36L35 469L32.3 477.7H28.6L31.7 465.5Z" fill="#8a8d96"/>
<path fill-rule="evenodd" d="M44.8 453.4H51Q54 453.4 54 456.4V459.8H50V457H45.8V462.2L54 465.8V474.7Q54 477.7 51 477.7H44.8Q41.8 477.7 41.8 474.7V472.6H45.8V474H50V469.5L41.8 465.6V456.4Q41.8 453.4 44.8 453.4Z M55.2 453.4H67.7V457H63.5V477.7H59.5V457H55.2Z M69 453.4H79Q81.9 453.4 81.9 456.3V465.5Q81.9 468.9 79 468.9L81.5 477.7H77.6L74.8 468.9H73.3V477.7H69Z M73.3 457V465.2H77.9V457Z M83.7 453.4H95.9V457H88V464.3H92.8V467.7H88V474H95.9V477.7H83.7Z M98 453.4H109.9V457H102V464.3H106.9V467.7H102V474H109.9V477.7H98Z M112.3 453.4H124.2V457H120V477.7H116V457H112.3Z" fill="#edbb80"/>
<path d="M16 479h3.6v1h-3.6z M28.8 479h3.4v1h-3.4z M36.4 479h3.4v1h-3.4z" fill="#8a8d96" opacity="0.3"/>
<path d="M44.2 479h7v1h-7z M59.7 479h3.6v1h-3.6z M69.2 479h3.8v1h-3.8z M77.8 479h3.4v1h-3.4z M84 479h11.6v1h-11.6z M98.3 479h11.4v1h-11.4z M116.2 479h3.6v1h-3.6z" fill="#edbb80" opacity="0.35"/>
</svg></body></html>
